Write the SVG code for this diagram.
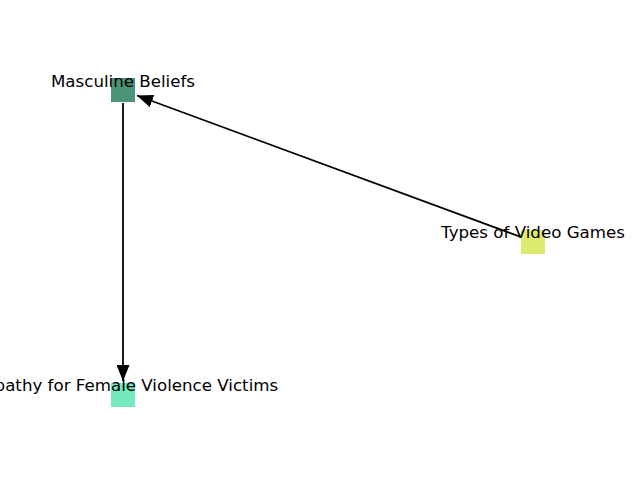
<svg xmlns="http://www.w3.org/2000/svg" width="640" height="480" viewBox="0 0 640 480">
  <style>
    .node rect { stroke: none; }
    .label { font-family: "DejaVu Sans", sans-serif; font-size: 16.67px; fill: #000; text-anchor: middle; }
    .edge { stroke: #000; stroke-width: 1.8; fill: none; }
  </style>
  <defs>
    <marker id="arrow" viewBox="0 0 16 13" refX="16" refY="6.5" markerWidth="16" markerHeight="13" markerUnits="userSpaceOnUse" orient="auto">
      <path d="M0,0 L16,6.5 L0,13 Z" fill="#000"/>
    </marker>
  </defs>
  <rect width="640" height="480" fill="#fff"/>
  <g id="connectors">
    <path class="edge" d="M521,237 L137,95.5" marker-end="url(#arrow)"/>
    <path class="edge" d="M123,103 L123,381" marker-end="url(#arrow)"/>
  </g>
  <g id="masculine-beliefs" class="node">
    <rect x="111" y="78" width="24" height="24" fill="#4b9477"/>
    <text class="label" x="123" y="87">Masculine Beliefs</text>
  </g>
  <g id="types-of-video-games" class="node">
    <rect x="521" y="230" width="24" height="24" fill="#dceb6f"/>
    <text class="label" x="533" y="238">Types of Video Games</text>
  </g>
  <g id="empathy" class="node">
    <rect x="111" y="383" width="24" height="24" fill="#74e9bc"/>
    <text class="label" x="123" y="391">Empathy for Female Violence Victims</text>
  </g>
</svg>
